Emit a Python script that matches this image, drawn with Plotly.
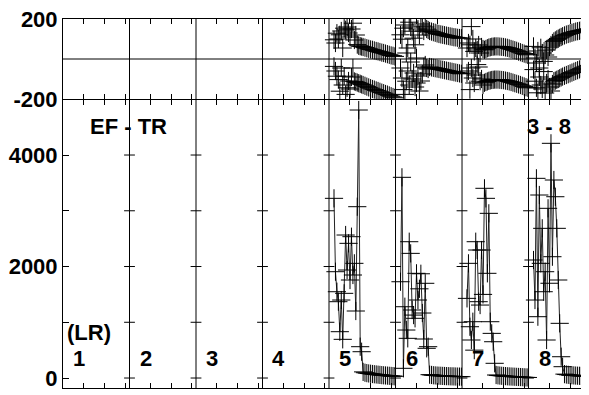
import plotly.graph_objects as go

# ---------------- data ----------------
section_labels = ["1", "2", "3", "4", "5", "6", "7", "8"]
section_width = 32  # x-units per LR block
minor_x_ticks = [10, 20, 30]  # tick positions inside each block

# position of each estimate inside its block (shared by all blocks)
period_pos = [2.4, 3.1, 3.8, 4.5, 5.2, 5.9, 6.6, 7.3, 8.0, 8.7,
              9.4, 10.1, 10.8, 11.5, 12.2, 12.9, 13.6, 14.3, 15.0, 15.7,
              16.4, 17.3, 18.2, 19.1, 20.0, 20.9, 21.8, 22.7, 23.6, 24.5,
              25.4, 26.3, 27.2, 28.1, 29.0, 29.9, 30.8, 31.7]

# magnitude (bottom panel)
mag_5 = [3223, 1907, 1548, 1369, 831, 1399, 694, 1519, 2565, 1937,
         2416, 1758, 2535, 1848, 2057, 1202, 3073, 4807, 562, 472,
         110, 95, 88, 82, 77, 72, 68, 64, 60, 56, 52, 49, 46, 43, 40, 37, 34, 31]
mag_6 = [1727, 3600, 174, 1279, 861, 712, 2445, 2236, 1220, 1129,
         1071, 1878, 1399, 1600, 1870, 1166, 700, 1699, 533, 562,
         60, 55, 50, 47, 44, 42, 40, 38, 36, 34, 33, 31, 30, 29, 27, 26, 25, 24]
mag_7 = [1429, 2057, 920, 682, 1010, 500, 2445, 2296, 1369, 1309,
         2296, 1500, 3403, 3223, 1878, 2954, 1010, 801, 651, 264,
         54, 48, 44, 40, 37, 34, 31, 29, 27, 25, 23, 21, 19, 17, 15, 13, 11, 10]
mag_8 = [2117, 1399, 3582, 1100, 3283, 2057, 2685, 1548, 1907, 682,
         3044, 1700, 4210, 2176, 3552, 3252, 2685, 1758, 981, 382,
         203, 70, 62, 57, 53, 50, 47, 44, 42, 40, 38, 36, 34, 32, 31, 30, 29, 28]

# phase (top panel), two components per block
phase_a_5 = [96, 80, 129, 100, 121, 140, 55, 154, 146, 160,
             130, 110, 150, 179, 95, 120, 72, 66, 64, 62,
             60, 57, 54, 51, 48, 46, 43, 40, 38, 35, 32, 30, 27, 24, 21, 18, 16, 13]
phase_b_5 = [-37, -60, -86, -103, -161, -45, -130, -86, -177, -144,
             -110, -150, -90, -45, -112, -115, -118, -121, -124, -127,
             -130, -134, -138, -142, -146, -150, -153, -157, -160, -164,
             -168, -171, -175, -178, -182, -186, -190, -194]
phase_a_6 = [121, 99, 154, 170, 30, 55, 184, 160, 139, 104,
             71, 5, 150, 120, 175, 165, 140, 160, 150, 145,
             140, 137, 134, 131, 128, 125, 123, 121, 119, 117, 115, 113, 111, 109, 108, 106, 105, 104]
phase_b_6 = [-45, -95, -153, -177, -111, -60, -130, -15, -100, -70,
             -140, -120, -85, -160, -110, -75, -40, -30, -45, -50,
             -40, -42, -44, -46, -48, -50, -52, -54, -56, -58, -60, -62, -64, -66, -68, -70, -72, -74]
phase_a_7 = [55, 80, 71, 162, 100, 38, 55, 45, 70, 30,
             60, 50, 46, 50, 54, 57, 59, 61, 62, 63,
             63, 63, 62, 61, 60, 58, 56, 53, 50, 47, 44, 41, 37, 34, 30, 27, 24, 21]
phase_b_7 = [-70, -60, -153, -45, -95, -120, -80, -28, -40, -111,
             -100, -130, -119, -115, -112, -109, -107, -105, -104, -103,
             -103, -103, -104, -105, -106, -108, -110, -112, -115, -118,
             -121, -124, -127, -130, -134, -137, -141, -144]
phase_a_8 = [63, 5, -20, 40, -45, 56, 30, -12, 20, 45,
             10, 60, 70, 80, 88, 93, 98, 102, 106, 110,
             114, 118, 122, 125, 128, 131, 134, 137, 139, 141, 143, 145, 147, 149, 151, 152, 153, 154]
phase_b_8 = [-53, -111, -144, -169, -90, -130, -150, -63, -170, -120,
             -100, -140, -160, -125, -111, -108, -104, -100, -96, -92,
             -88, -84, -80, -76, -72, -68, -64, -60, -56, -52, -48, -44, -40, -36, -32, -28, -24, -20]

mag_ticks = [0, 1000, 2000, 3000, 4000]
mag_ticktext = ["0", "", "2000", "", "4000"]
phase_ticks = [-200, 200]
phase_ticktext = ["-200", "200"]
mag_range = [-179, 4987]
phase_range = [-200, 200]
x_range = [0, 253.1]
label_mag_level = 359
lr_mag_level = 810
title_mag_level = 4520
title_left = "EF - TR"
title_right = "3 - 8"

blocks = {5: (mag_5, phase_a_5, phase_b_5),
          6: (mag_6, phase_a_6, phase_b_6),
          7: (mag_7, phase_a_7, phase_b_7),
          8: (mag_8, phase_a_8, phase_b_8)}

# ---------------- figure ----------------
FONT = "Liberation Sans, Arial, Helvetica, sans-serif"
fig = go.Figure()

marker = dict(symbol="cross-thin", size=13, color="black",
              line=dict(color="black", width=1))

for k, (mag, pa, pb) in blocks.items():
    xs = [section_width * (k - 1) + p for p in period_pos]
    fig.add_trace(go.Scatter(x=xs, y=mag, xaxis="x", yaxis="y",
                             mode="lines+markers",
                             line=dict(color="#222222", width=1),
                             marker=marker, showlegend=False))
    for ph in (pa, pb):
        fig.add_trace(go.Scatter(x=xs, y=ph, xaxis="x2", yaxis="y2",
                                 mode="markers", marker=marker,
                                 showlegend=False))

n_blocks = len(section_labels)
xtickvals = [section_width * b + t for b in range(n_blocks) for t in minor_x_ticks]

shapes = []
# block dividers
for b in range(1, n_blocks):
    shapes.append(dict(type="line", xref="x", yref="paper",
                       x0=section_width * b, x1=section_width * b, y0=0, y1=1,
                       line=dict(color="black", width=1)))
    for v in mag_ticks:
        shapes.append(dict(type="line", xref="x", yref="y",
                           x0=section_width * b - 2.6, x1=section_width * b + 2.6,
                           y0=v, y1=v, line=dict(color="black", width=1)))
# zero line in phase panel
shapes.append(dict(type="line", xref="paper", yref="y2", x0=0, x1=1, y0=0, y1=0,
                   line=dict(color="black", width=1)))

bold = dict(family=FONT, size=22, color="black", weight="bold")
annotations = []
for b, lab in enumerate(section_labels):
    annotations.append(dict(x=section_width * b + 7.7, y=label_mag_level,
                            xref="x", yref="y", text=lab, showarrow=False,
                            font=bold))
annotations.append(dict(x=12.5, y=lr_mag_level, xref="x", yref="y",
                        text="(LR)", showarrow=False, font=bold))
annotations.append(dict(x=31.3, y=title_mag_level, xref="x", yref="y",
                        text=title_left, showarrow=False, font=bold))
annotations.append(dict(x=233.9, y=title_mag_level, xref="x", yref="y",
                        text=title_right, showarrow=False, font=bold))

# page body adds an 8px offset; figure sized so plot spans x 63..589, y 19..388
W, H = 581, 387
plot_h = 380 - 11
split = (380 - 92) / plot_h
split_top = split + 1.0 / plot_h  # make the two panel border lines coincide

xcommon = dict(range=x_range, tickmode="array", tickvals=xtickvals,
               ticks="inside", ticklen=5, tickcolor="black", tickwidth=1,
               showticklabels=False, showline=True, linecolor="black",
               linewidth=1, mirror="ticks", showgrid=False, zeroline=False,
               automargin=False)

fig.update_layout(
    width=W, height=H,
    margin=dict(l=55, r=0, t=11, b=7, autoexpand=False),
    paper_bgcolor="white", plot_bgcolor="white",
    showlegend=False,
    xaxis=dict(domain=[0, 1], anchor="y", **xcommon),
    xaxis2=dict(domain=[0, 1], anchor="y2", matches="x", **xcommon),
    yaxis=dict(domain=[0, split], range=mag_range, tickmode="array",
               tickvals=mag_ticks, ticktext=mag_ticktext,
               ticks="inside", ticklen=6, tickcolor="black",
               showline=True, linecolor="black", linewidth=1,
               showgrid=False, zeroline=False, tickfont=bold,
               ticklabeloverflow="allow", automargin=False),
    yaxis2=dict(domain=[split_top, 1], range=phase_range, tickmode="array",
                tickvals=phase_ticks, ticktext=phase_ticktext,
                ticks="inside", ticklen=5,
                tickcolor="black", showline=True, linecolor="black",
                linewidth=1, showgrid=False, zeroline=False, tickfont=bold,
                ticklabeloverflow="allow", automargin=False),
    shapes=shapes, annotations=annotations,
)

fig.write_html("out.html")
